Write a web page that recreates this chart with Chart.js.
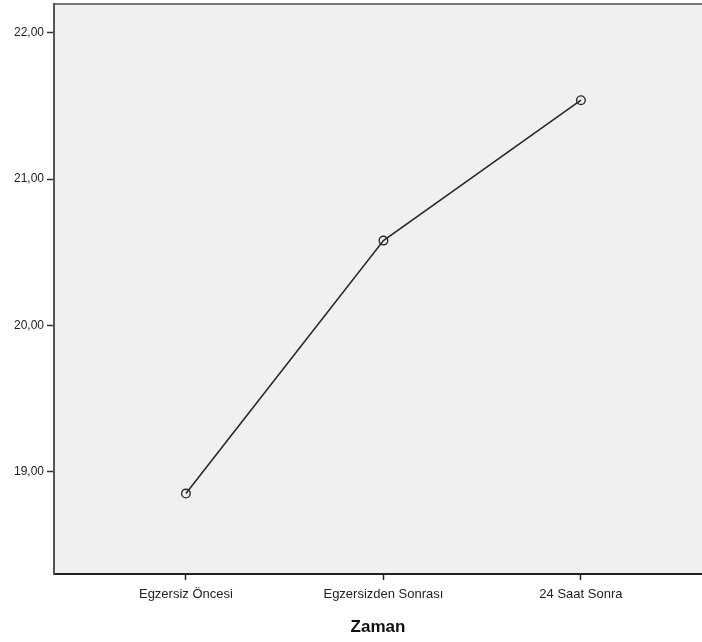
<!DOCTYPE html>
<html>
<head>
<meta charset="utf-8">
<script src="https://cdn.jsdelivr.net/npm/chart.js@4"></script>
<style>
  html, body { margin: 0; padding: 0; background: #fff; overflow: hidden; }
  #wrap { width: 702px; height: 642px; }
  canvas { display: block; }
</style>
</head>
<body>
<div id="wrap"><canvas id="chart" width="702" height="642"></canvas></div>
<script>
  // Data
  const categories = ["Egzersiz Öncesi", "Egzersizden Sonrası", "24 Saat Sonra"];
  const means = [18.85, 20.58, 21.54];
  const yTicks = [19, 20, 21, 22];
  const xTitle = "Zaman";

  // Plot background + top frame line
  const frame = {
    id: "frame",
    beforeDraw(chart) {
      const { ctx, chartArea: a } = chart;
      ctx.save();
      ctx.fillStyle = "#f0f0f0";
      ctx.fillRect(a.left, a.top, a.right - a.left, a.bottom - a.top);
      ctx.strokeStyle = "#777";
      ctx.lineWidth = 2;
      ctx.beginPath();
      ctx.moveTo(a.left, a.top);
      ctx.lineTo(a.right, a.top);
      ctx.stroke();
      ctx.restore();
    }
  };

  // no auto padding for overflowing tick labels
  function noPad(s) {
    s.paddingLeft = 0; s.paddingRight = 0; s.paddingTop = 0; s.paddingBottom = 0;
  }

  const tickFont = { family: "'Liberation Sans', Arial, sans-serif", size: 12 };

  new Chart(document.getElementById("chart"), {
    type: "line",
    data: {
      datasets: [{
        data: means.map((v, i) => ({ x: i + 1, y: v })),
        borderColor: "#2a2a2a",
        borderWidth: 1.6,
        pointRadius: 4.3,
        pointBorderWidth: 1.4,
        pointBorderColor: "#2a2a2a",
        pointBackgroundColor: "rgba(0,0,0,0)",
        tension: 0
      }]
    },
    plugins: [frame],
    options: {
      responsive: false,
      animation: false,
      layout: { autoPadding: false, padding: { top: 4, right: 0, bottom: 0, left: 0 } },
      plugins: { legend: { display: false }, tooltip: { enabled: false } },
      scales: {
        x: {
          type: "linear",
          min: 0.332,
          max: 3.613,
          afterBuildTicks: s => { s.ticks = categories.map((c, i) => ({ value: i + 1 })); },
          afterFit: s => { s.height = 68; noPad(s); },
          grid: { drawOnChartArea: false, drawTicks: true, tickLength: 6, color: "#222", tickWidth: 1.5 },
          border: { display: true, color: "#222", width: 2 },
          ticks: {
            autoSkip: false,
            maxRotation: 0,
            padding: 7,
            color: "#222",
            font: { family: "'Liberation Sans', Arial, sans-serif", size: 13 },
            callback: v => categories[Math.round(v) - 1]
          },
          title: {
            display: true,
            text: xTitle,
            color: "#111",
            font: { family: "'Liberation Sans Narrow', 'Liberation Sans', Arial, sans-serif", size: 17, weight: "bold" },
            padding: { top: 0, bottom: 4 }
          }
        },
        y: {
          min: 18.30,
          max: 22.198,
          afterBuildTicks: s => { s.ticks = yTicks.map(v => ({ value: v })); },
          afterFit: s => { s.width = 54; noPad(s); },
          grid: { drawOnChartArea: false, drawTicks: true, tickLength: 7, color: "#333", tickWidth: 1.5 },
          border: { display: true, color: "#555", width: 2 },
          ticks: {
            padding: 3,
            color: "#222",
            font: tickFont,
            callback: v => v.toFixed(2).replace(".", ",")
          }
        }
      }
    }
  });
</script>
</body>
</html>
